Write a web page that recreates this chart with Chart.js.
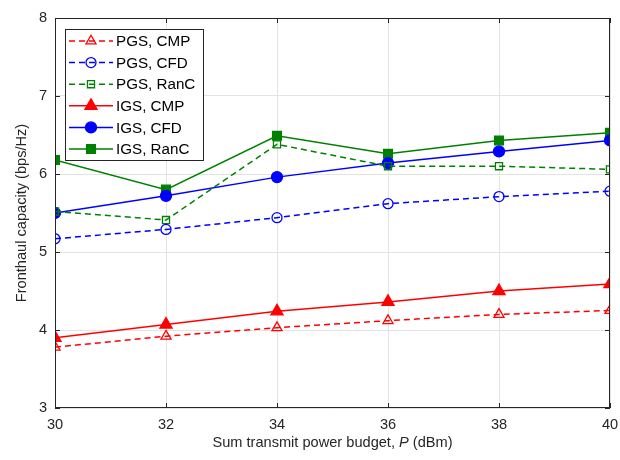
<!DOCTYPE html>
<html>
<head>
<meta charset="utf-8">
<script src="https://cdn.jsdelivr.net/npm/chart.js@4/dist/chart.umd.min.js"></script>
<style>
  html, body { margin: 0; padding: 0; background: #fff; }
  #wrap { width: 620px; height: 460px; position: relative; }
</style>
</head>
<body>
<div id="wrap"><canvas id="chart"></canvas></div>
<script>
// Data
const powerBudget = [30, 32, 34, 36, 38, 40];
const xTicks = [30, 32, 34, 36, 38, 40];
const yTicks = [3, 4, 5, 6, 7, 8];

const pgsCmp = [3.78, 3.92, 4.03, 4.12, 4.2, 4.25];
const pgsCfd = [5.17, 5.29, 5.44, 5.62, 5.71, 5.78];
const pgsRanc = [5.52, 5.41, 6.38, 6.1, 6.1, 6.06];
const igsCmp = [3.9, 4.07, 4.24, 4.36, 4.5, 4.59];
const igsCfd = [5.5, 5.72, 5.96, 6.14, 6.29, 6.43];
const igsRanc = [6.18, 5.8, 6.49, 6.26, 6.43, 6.53];

const labels = ["PGS, CMP", "PGS, CFD", "PGS, RanC", "IGS, CMP", "IGS, CFD", "IGS, RanC"];

const FONT = "'Liberation Sans', Arial, Helvetica, sans-serif";
const AXIS = "#262626";

function pts(vals) {
  return vals.map((v, i) => ({ x: powerBudget[i], y: v }));
}

function series(label, vals, color, style, radius, filled, dashed) {
  return {
    label: label,
    data: pts(vals),
    borderColor: color,
    backgroundColor: filled ? color : "rgba(0,0,0,0)",
    pointBorderColor: color,
    pointBackgroundColor: filled ? color : "rgba(0,0,0,0)",
    pointStyle: style,
    pointRadius: radius,
    pointBorderWidth: 1.3,
    borderWidth: 1.5,
    borderDash: dashed ? [6, 4] : [],
    tension: 0,
  };
}

const datasets = [
  series(labels[0], pgsCmp, "#ff0000", "triangle", 5.8, false, true),
  series(labels[1], pgsCfd, "#0000ff", "circle", 5, false, true),
  series(labels[2], pgsRanc, "#008000", "rect", 5, false, true),
  series(labels[3], igsCmp, "#ff0000", "triangle", 7, true, false),
  series(labels[4], igsCfd, "#0000ff", "circle", 5.5, true, false),
  series(labels[5], igsRanc, "#008000", "rect", 6.2, true, false),
];

function marker(ctx, style, r, x, y, color, filled) {
  ctx.save();
  ctx.strokeStyle = color;
  ctx.fillStyle = color;
  ctx.lineWidth = 1.3;
  ctx.setLineDash([]);
  ctx.beginPath();
  if (style === "circle") {
    ctx.arc(x, y, r, 0, Math.PI * 2);
  } else if (style === "rect") {
    const s = r * Math.SQRT1_2;
    ctx.rect(x - s, y - s, 2 * s, 2 * s);
  } else {
    ctx.moveTo(x, y - r);
    ctx.lineTo(x - r * Math.sin(Math.PI / 3), y + r * 0.5);
    ctx.lineTo(x + r * Math.sin(Math.PI / 3), y + r * 0.5);
    ctx.closePath();
  }
  if (filled) ctx.fill();
  ctx.stroke();
  ctx.restore();
}

// frame, inward ticks, axis titles and the legend box
const decor = {
  id: "decor",
  afterDraw(chart) {
    const ctx = chart.ctx;
    const a = chart.chartArea;
    const xs = chart.scales.x;
    const ys = chart.scales.y;
    ctx.save();
    ctx.strokeStyle = AXIS;
    ctx.lineWidth = 1;
    ctx.strokeRect(a.left + 0.5, a.top + 0.5, a.right - a.left - 1, a.bottom - a.top - 1);
    ctx.beginPath();
    xTicks.forEach((t) => {
      const px = Math.round(xs.getPixelForValue(t)) + 0.5;
      ctx.moveTo(px, a.bottom); ctx.lineTo(px, a.bottom - 5);
      ctx.moveTo(px, a.top); ctx.lineTo(px, a.top + 5);
    });
    yTicks.forEach((t) => {
      const py = Math.round(ys.getPixelForValue(t)) + 0.5;
      ctx.moveTo(a.left, py); ctx.lineTo(a.left + 5, py);
      ctx.moveTo(a.right, py); ctx.lineTo(a.right - 5, py);
    });
    ctx.stroke();

    // x title with italic P
    const fs = "14.6px " + FONT;
    ctx.fillStyle = AXIS;
    ctx.textBaseline = "middle";
    const p1 = "Sum transmit power budget, ";
    const p2 = "P";
    const p3 = " (dBm)";
    ctx.font = fs;
    const w1 = ctx.measureText(p1).width;
    const w3 = ctx.measureText(p3).width;
    ctx.font = "italic " + fs;
    const w2 = ctx.measureText(p2).width;
    const cx = (a.left + a.right) / 2;
    const x0 = cx - (w1 + w2 + w3) / 2;
    const ty = 443;
    ctx.textAlign = "left";
    ctx.font = fs;
    ctx.fillText(p1, x0, ty);
    ctx.font = "italic " + fs;
    ctx.fillText(p2, x0 + w1, ty);
    ctx.font = fs;
    ctx.fillText(p3, x0 + w1 + w2, ty);

    // y title
    ctx.save();
    ctx.translate(22, (a.top + a.bottom) / 2);
    ctx.rotate(-Math.PI / 2);
    ctx.textAlign = "center";
    ctx.fillText("Fronthaul capacity (bps/Hz)", 0, 0);
    ctx.restore();

    // legend
    const bx = 65.5, by = 29.5, bw = 138, bh = 131;
    ctx.fillStyle = "#fff";
    ctx.fillRect(bx, by, bw, bh);
    ctx.strokeStyle = AXIS;
    ctx.strokeRect(bx, by, bw, bh);
    chart.data.datasets.forEach((ds, i) => {
      const ly = 41 + i * 21.6;
      ctx.save();
      ctx.strokeStyle = ds.borderColor;
      ctx.lineWidth = 1.5;
      ctx.setLineDash(ds.borderDash);
      ctx.beginPath();
      ctx.moveTo(69, ly); ctx.lineTo(113, ly);
      ctx.stroke();
      ctx.restore();
      const filled = ds.pointBackgroundColor !== "rgba(0,0,0,0)";
      marker(ctx, ds.pointStyle, ds.pointRadius, 91, ly, ds.borderColor, filled);
      ctx.fillStyle = "#000";
      ctx.font = "15.2px " + FONT;
      ctx.textAlign = "left";
      ctx.fillText(ds.label, 116, ly + 1);
    });
    ctx.restore();
  },
};

new Chart(document.getElementById("chart"), {
  type: "line",
  data: { datasets: datasets },
  options: {
    responsive: true,
    maintainAspectRatio: false,
    animation: false,
    layout: { padding: { left: 0, right: 10, top: 18, bottom: 0 } },
    plugins: {
      legend: { display: false },
      tooltip: { enabled: false },
    },
    scales: {
      x: {
        type: "linear",
        min: 30,
        max: 40,
        afterBuildTicks: (s) => { s.ticks = xTicks.map((v) => ({ value: v })); },
        afterFit: (s) => { s.height = 52; s.paddingLeft = 0; s.paddingRight = 0; },
        grid: { color: "#e3e3e3", drawTicks: false, lineWidth: 1 },
        border: { display: false },
        ticks: { color: AXIS, font: { family: FONT, size: 14.6 }, padding: 8, maxRotation: 0 },
      },
      y: {
        min: 3,
        max: 8,
        afterBuildTicks: (s) => { s.ticks = yTicks.map((v) => ({ value: v })); },
        afterFit: (s) => { s.width = 55; s.paddingTop = 0; s.paddingBottom = 0; },
        grid: { color: "#e3e3e3", drawTicks: false, lineWidth: 1 },
        border: { display: false },
        ticks: { color: AXIS, font: { family: FONT, size: 14.6 }, padding: 8 },
      },
    },
  },
  plugins: [decor],
});
</script>
</body>
</html>
